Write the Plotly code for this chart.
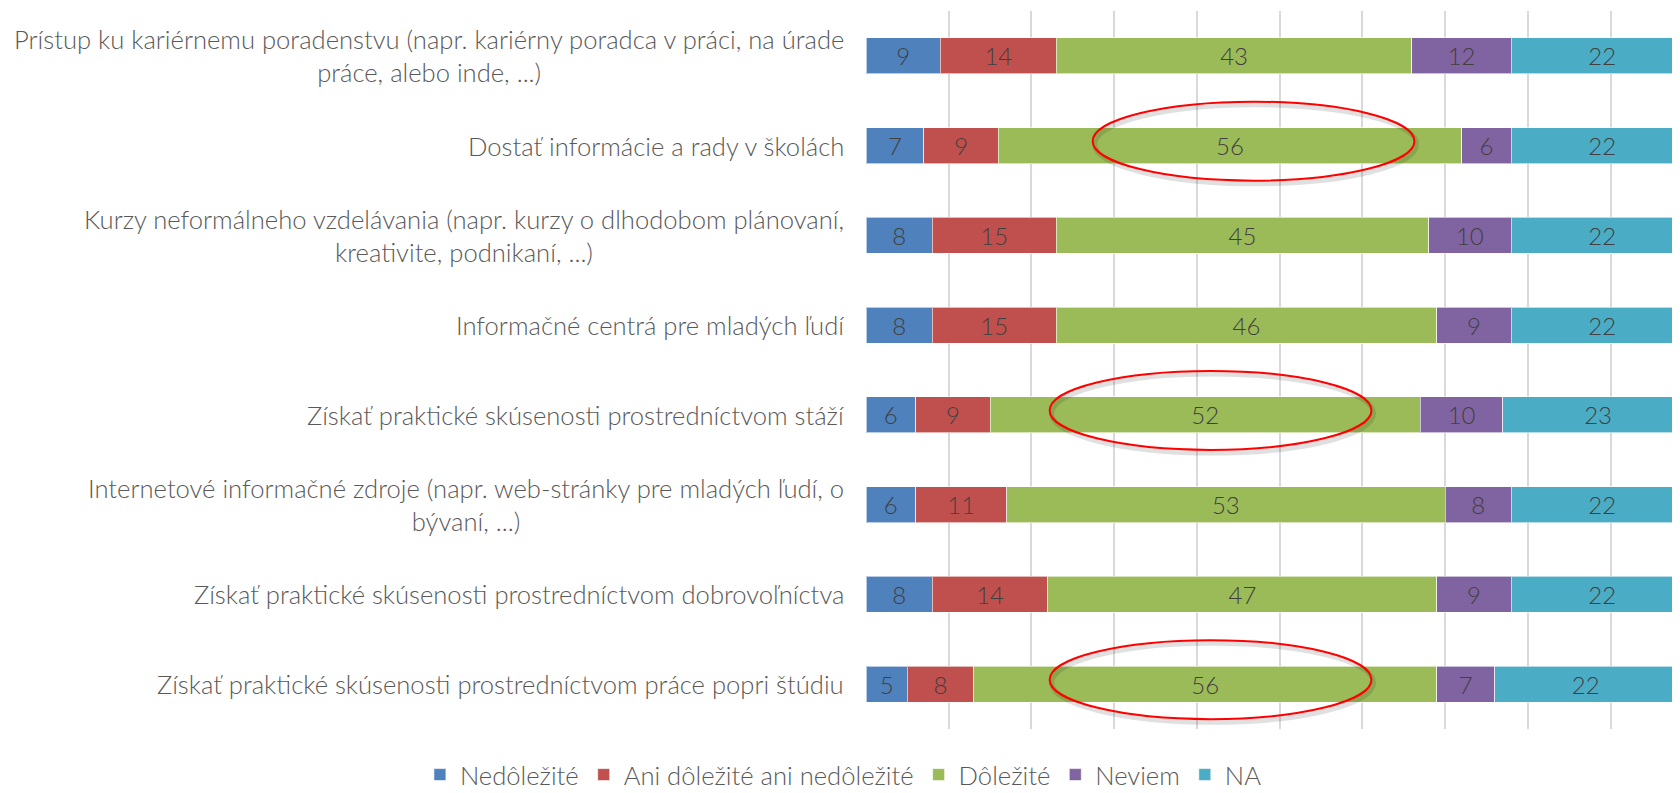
import plotly.graph_objects as go

categories = [
    "Prístup ku kariérnemu poradenstvu (napr. kariérny poradca v práci, na úrade<br>práce, alebo inde, ...)",
    "Dostať informácie a rady v školách",
    "Kurzy neformálneho vzdelávania (napr. kurzy o dlhodobom plánovaní,<br>kreativite, podnikaní, ...)",
    "Informačné centrá pre mladých ľudí",
    "Získať praktické skúsenosti prostredníctvom stáží",
    "Internetové informačné zdroje (napr. web-stránky pre mladých ľudí, o<br>bývaní, ...)",
    "Získať praktické skúsenosti prostredníctvom dobrovoľníctva",
    "Získať praktické skúsenosti prostredníctvom práce popri štúdiu",
]
series_names = ["Nedôležité", "Ani dôležité ani nedôležité", "Dôležité", "Neviem", "NA"]
nedolezite = [9, 7, 8, 8, 6, 6, 8, 5]
ani = [14, 9, 15, 15, 9, 11, 14, 8]
dolezite = [43, 56, 45, 46, 52, 53, 47, 56]
neviem = [12, 6, 10, 9, 10, 8, 9, 7]
na = [22, 22, 22, 22, 23, 22, 22, 22]
colors = ["#4F81BD", "#C0504D", "#9BBB59", "#8064A2", "#4BACC6"]

# highlighted rows (ellipses): category index, x-start, x-end
highlight_rows = [1, 4, 7]
highlight_x0 = [27.4, 22.2, 22.2]
highlight_x1 = [66.3, 61.1, 61.1]

FONT = "Lato"
fig = go.Figure()
for name, vals, col in zip(series_names, [nedolezite, ani, dolezite, neviem, na], colors):
    fig.add_trace(go.Bar(
        y=categories, x=vals, name=name, orientation="h",
        marker=dict(color=col, line=dict(color="rgba(255,255,255,0.6)", width=1)),
        text=vals, textposition="inside", insidetextanchor="middle",
        textfont=dict(family=FONT, size=24, color="#404040", weight=300),
        textangle=0,
    ))

annotations = []
for c in categories:
    annotations.append(dict(
        x=0, xref="paper", y=c, yref="y", text=c, showarrow=False,
        xanchor="right", xshift=-20, align="center",
        font=dict(family=FONT, size=25.6, color="#595959", weight=300),
    ))

shapes = []
for r, a, b in zip(highlight_rows, highlight_x0, highlight_x1):
    yc = r - 0.05
    shapes.append(dict(type="circle", xref="x", yref="y", x0=a + 0.25, x1=b + 0.25,
                       y0=yc - 0.44 + 0.035, y1=yc + 0.44 + 0.035,
                       line=dict(color="rgba(0,0,0,0.12)", width=5), layer="above"))
    shapes.append(dict(type="circle", xref="x", yref="y", x0=a, x1=b,
                       y0=yc - 0.44, y1=yc + 0.44,
                       line=dict(color="#FF0000", width=2), layer="above"))

# the page body has an 8px margin, so the figure is sized to fill the rest of the window
fig.update_layout(
    barmode="stack", bargap=0.6,
    width=1672, height=785,
    margin=dict(l=858, r=0, t=3, b=64, autoexpand=False),
    paper_bgcolor="white", plot_bgcolor="white",
    font=dict(family=FONT, color="#595959"),
    xaxis=dict(range=[0, 98.4], dtick=10, showgrid=True, gridcolor="#D9D9D9", gridwidth=1.5,
               showticklabels=False, zeroline=False, showline=False, fixedrange=True),
    yaxis=dict(autorange="reversed", showticklabels=False, showgrid=False,
               showline=False, zeroline=False, fixedrange=True),
    showlegend=True,
    legend=dict(orientation="h", xref="paper", yref="paper", x=-0.548, y=-0.064,
                xanchor="left", yanchor="middle", traceorder="normal",
                font=dict(family=FONT, size=25.6, color="#595959", weight=300)),
    annotations=annotations, shapes=shapes,
    uniformtext=dict(mode=False),
)
fig.write_html("out.html")
